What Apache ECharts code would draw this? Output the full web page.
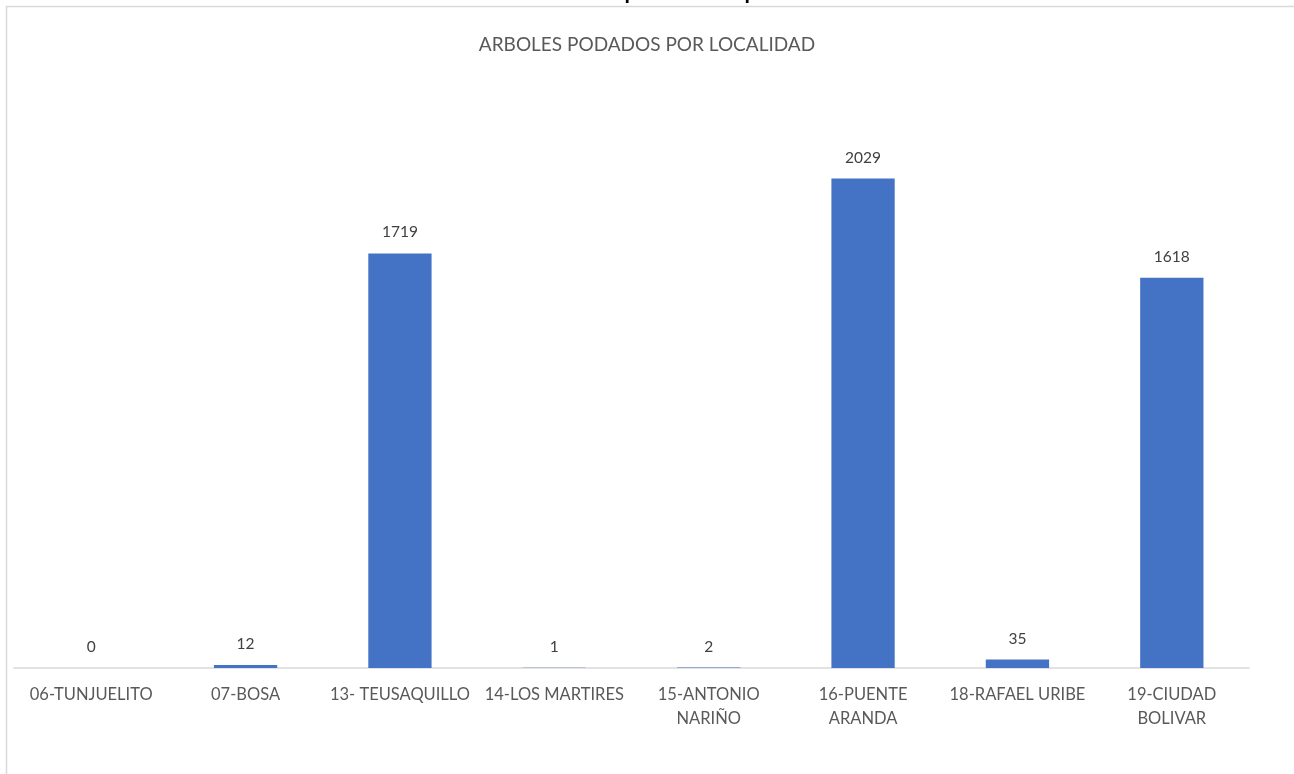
<!DOCTYPE html>
<html>
<head>
<meta charset="utf-8">
<script src="https://cdn.jsdelivr.net/npm/echarts@6/dist/echarts.min.js"></script>
<style>
html,body{margin:0;padding:0;background:#fff;}
#c{width:1294px;height:774px;}
</style>
</head>
<body>
<div id="c"></div>
<script>
var chartTitle = 'ARBOLES PODADOS POR LOCALIDAD';
var topCaption = 'Gráfica 4. Árboles podados por localidad';
var categories = ['06-TUNJUELITO', '07-BOSA', '13- TEUSAQUILLO', '14-LOS MARTIRES', '15-ANTONIO\nNARIÑO', '16-PUENTE\nARANDA', '18-RAFAEL URIBE', '19-CIUDAD\nBOLIVAR'];
var values = [0, 12, 1719, 1, 2, 2029, 35, 1618];

var chart = echarts.init(document.getElementById('c'), null, {renderer: 'canvas'});
var font = 'Lato, "Open Sans", sans-serif';
chart.setOption({
  animation: false,
  backgroundColor: '#ffffff',
  graphic: [
    {type: 'rect', shape: {x: 6.5, y: 6.5, width: 1400, height: 900}, style: {fill: 'none', stroke: '#d9d9d9', lineWidth: 1.5}, silent: true},
    {type: 'text', left: 'center', top: -27, style: {text: topCaption, font: '30px ' + font, fill: '#000000'}}
  ],
  title: {
    text: chartTitle,
    left: 'center',
    top: 30,
    textStyle: {fontFamily: font, fontSize: 19, fontWeight: 'normal', color: '#595959'}
  },
  grid: {left: 14, right: 45, top: 65, bottom: 106, containLabel: false},
  xAxis: {
    type: 'category',
    data: categories,
    axisLine: {lineStyle: {color: '#d9d9d9', width: 1.5}},
    axisTick: {show: false},
    axisLabel: {interval: 0, color: '#595959', fontFamily: font, fontSize: 16.5, lineHeight: 24, margin: 15}
  },
  yAxis: {
    type: 'value',
    min: 0,
    max: 2500,
    show: false,
    splitLine: {show: false}
  },
  series: [{
    type: 'bar',
    data: values,
    barWidth: '41%',
    itemStyle: {color: '#4472C4'},
    label: {show: true, position: 'top', distance: 13, color: '#404040', fontFamily: font, fontSize: 15.5}
  }]
});
</script>
</body>
</html>
